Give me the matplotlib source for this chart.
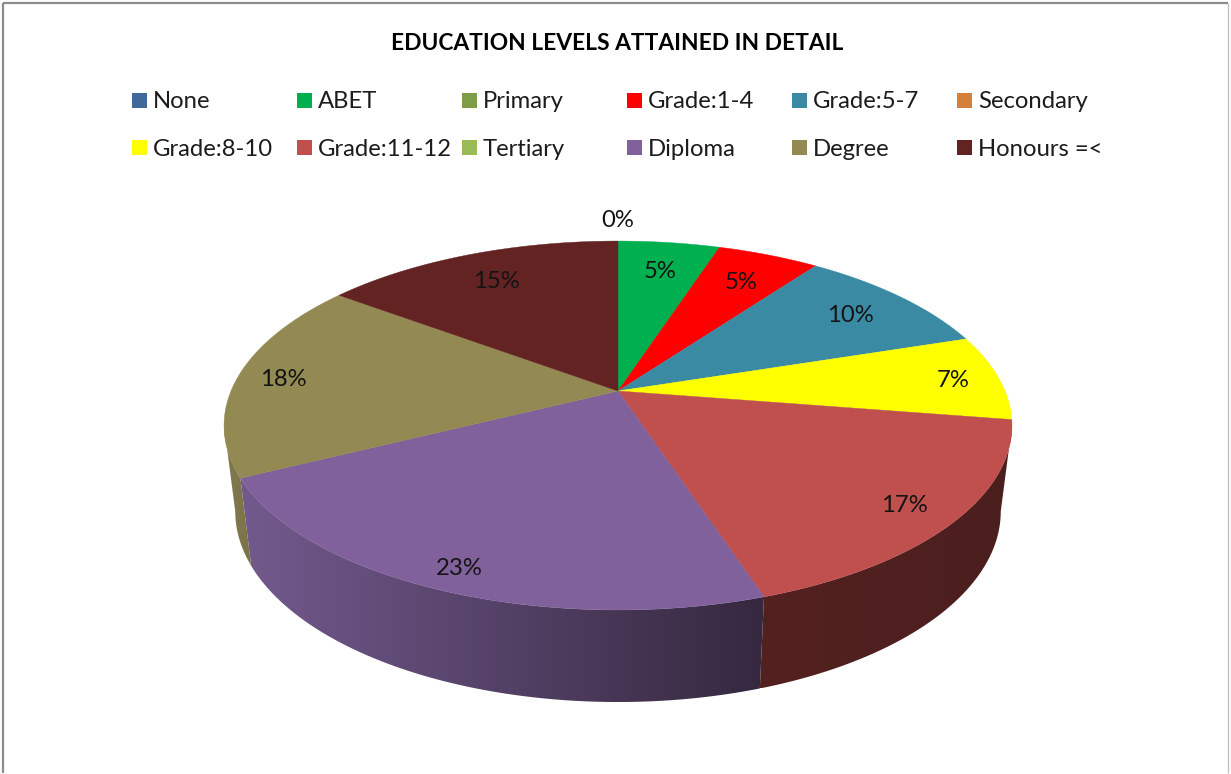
"""Exploded-view style 3D pie of education levels, drawn in figure pixel coordinates."""

import numpy as np
import matplotlib
matplotlib.use("Agg")
import matplotlib.pyplot as plt
from matplotlib.patches import Polygon, Rectangle

# data
categories = ["None", "ABET", "Primary", "Grade:1-4", "Grade:5-7", "Secondary",
              "Grade:8-10", "Grade:11-12", "Tertiary", "Diploma", "Degree", "Honours =<"]
shares = [0.0, 5.0, 0.0, 5.0, 10.0, 0.0, 7.49, 17.49, 0.0, 22.62, 17.6, 14.8]
labelled = [True, True, False, True, True, False, True, True, False, True, True, True]
colors = ["#41689b", "#00b050", "#7e9d46", "#ff0000", "#3b8aa4", "#d4803a",
          "#ffff00", "#bf504d", "#9bbb59", "#80619b", "#938952", "#632322"]
title = "EDUCATION LEVELS ATTAINED IN DETAIL"

# side wall shading, left and right end of each wall
wall_shades = {
    "Grade:11-12": ("#532120", "#4b1f1e"),
    "Diploma": ("#735a8e", "#35283f"),
    "Degree": ("#807a50", "#7c7348"),
}
label_radius = {"None": 1.18, "ABET": 0.79, "Grade:1-4": 0.79, "Grade:5-7": 0.81, "Grade:8-10": 0.88,
                "Grade:11-12": 0.87, "Diploma": 0.9, "Degree": 0.88, "Honours =<": 0.79}

# layout, all in pixels
CX = 618
TOP_CY, TOP_RX, TOP_RY = 391, 387, 178
BOT_CY, BOT_RX, BOT_RY = 475.7, 376, 184
TILT = 0.187


def project(t, r, cy, rx, ry):
    """Map a pie angle (radians clockwise from 12 o'clock) to the screen with perspective."""
    u, v = r * np.sin(t), r * np.cos(t)
    w = 1 + TILT * v
    return CX + rx * u / w, cy - ry * v / w


def arc(t0, t1, cy, rx, ry):
    t = np.linspace(t0, t1, 200)
    return np.column_stack(project(t, 1.0, cy, rx, ry))


plt.rcParams["font.family"] = ["Lato", "DejaVu Sans"]
fig = plt.figure(figsize=(12.31, 7.74), dpi=100, facecolor="white")
ax = fig.add_axes([0, 0, 1, 1])
ax.axis("off")

# frame of the chart area
ax.plot([3, 3], [773, 3], color="#8c8c8c", lw=1.6, solid_capstyle="butt", zorder=1)
ax.plot([3, 1228], [3, 3], color="#8c8c8c", lw=1.6, solid_capstyle="butt", zorder=1)
ax.plot([1228, 1228], [3, 773], color="#bcbcbc", lw=0.9, solid_capstyle="butt", zorder=1)

ax.text(617, 43, title, ha="center", va="center", fontsize=16.35, fontweight="bold", color="black")

# legend, filled row by row
for i, (name, color) in enumerate(zip(categories, colors)):
    row, col = divmod(i, 6)
    x = 132 + 165 * col
    y = 100 + 47 * row
    ax.add_patch(Rectangle((x, y - 7), 14.5, 14.5, facecolor=color, edgecolor="none", zorder=3))
    ax.text(x + 21, y + 2, name, ha="left", va="center", fontsize=17.2, color="#1c1c1c")

edges = np.cumsum([0.0] + shares) / sum(shares) * 2 * np.pi
wall_from = np.arccos(-TILT)
wall_to = 2 * np.pi - wall_from

# side walls, only the part that faces the viewer
for i, name in enumerate(categories):
    t0, t1 = max(edges[i], wall_from), min(edges[i + 1], wall_to)
    if t1 <= t0 or name not in wall_shades:
        continue
    outline = np.vstack([arc(t0, t1, TOP_CY, TOP_RX, TOP_RY),
                         arc(t0, t1, BOT_CY, BOT_RX, BOT_RY)[::-1]])
    x0, x1 = outline[:, 0].min(), outline[:, 0].max()
    y0, y1 = outline[:, 1].min(), outline[:, 1].max()
    left, right = (np.array(matplotlib.colors.to_rgb(c)) for c in wall_shades[name])
    ramp = np.linspace(0, 1, 256)[None, :, None] * (right - left) + left
    patch = Polygon(outline, closed=True, facecolor="none", edgecolor="none", zorder=2)
    ax.add_patch(patch)
    im = ax.imshow(ramp, extent=(x0, x1, y1, y0), aspect="auto", zorder=2, interpolation="bilinear")
    im.set_clip_path(patch)

# top face
for i, name in enumerate(categories):
    if shares[i] == 0:
        continue
    rim = arc(edges[i], edges[i + 1], TOP_CY, TOP_RX, TOP_RY)
    ax.add_patch(Polygon(np.vstack([[CX, TOP_CY], rim]), closed=True, facecolor=colors[i],
                         edgecolor=colors[i], lw=0.3, zorder=3))

# percentage labels
for i, name in enumerate(categories):
    if not labelled[i]:
        continue
    mid = (edges[i] + edges[i + 1]) / 2
    x, y = project(mid, label_radius[name], TOP_CY, TOP_RX, TOP_RY)
    ax.text(x, y + 2, f"{shares[i] / sum(shares) * 100:.0f}%", ha="center", va="center",
            fontsize=17.2, color="#141414", zorder=4)

ax.set_xlim(0, 1231)
ax.set_ylim(774, 0)

fig.savefig("out.png", dpi=100, facecolor="white")
